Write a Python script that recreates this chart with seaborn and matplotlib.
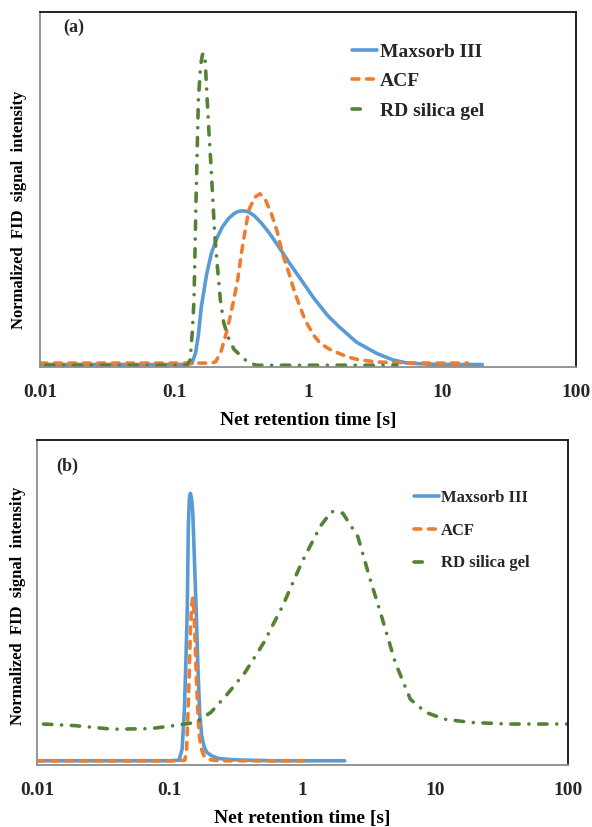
import matplotlib
matplotlib.use("Agg")
import matplotlib.pyplot as plt
import seaborn as sns
import pandas as pd
from matplotlib.ticker import FixedLocator, FixedFormatter, NullLocator

# ---------------- data ----------------
series_names = ["Maxsorb III", "ACF", "RD silica gel"]
series_colors = ["#5B9BD5", "#ED7D31", "#548235"]
tick_values = [0.01, 0.1, 1, 10, 100]
tick_labels = ["0.01", "0.1", "1", "10", "100"]
x_label = "Net retention time [s]"
y_label = "Normalized  FID  signal  intensity"
panel_labels = ["(a)", "(b)"]

# panel (a)
a_maxsorb_t = [0.01, 0.05, 0.12, 0.136, 0.145, 0.152, 0.16, 0.175, 0.19, 0.21, 0.23, 0.255,
               0.28, 0.30, 0.327, 0.36, 0.40, 0.45, 0.52, 0.607, 0.72, 0.895, 1.1, 1.4,
               1.71, 2.3, 3.27, 4.3, 5.5, 8, 12, 20]
a_maxsorb_y = [0.007, 0.007, 0.007, 0.01, 0.04, 0.09, 0.17, 0.26, 0.32, 0.365, 0.395, 0.418,
               0.432, 0.438, 0.44, 0.437, 0.425, 0.405, 0.375, 0.338, 0.295, 0.244, 0.195, 0.145,
               0.113, 0.07, 0.038, 0.02, 0.011, 0.008, 0.007, 0.007]
a_acf_t = [0.01, 0.1, 0.19, 0.205, 0.225, 0.245, 0.262, 0.279, 0.30, 0.318, 0.34, 0.361, 0.40,
           0.438, 0.48, 0.533, 0.59, 0.646, 0.72, 0.787, 0.87, 0.955, 1.1, 1.24, 1.45, 1.71,
           2.0, 2.35, 3.27, 5, 8, 15.5]
a_acf_y = [0.011, 0.011, 0.011, 0.015, 0.045, 0.094, 0.14, 0.188, 0.25, 0.319, 0.385, 0.441,
           0.478, 0.488, 0.472, 0.432, 0.38, 0.319, 0.265, 0.216, 0.17, 0.131, 0.09, 0.066,
           0.05, 0.038, 0.028, 0.021, 0.014, 0.012, 0.011, 0.011]
a_silica_t = [0.011, 0.05, 0.125, 0.132, 0.137, 0.141, 0.146, 0.152, 0.158, 0.163, 0.167, 0.171,
              0.177, 0.183, 0.189, 0.195, 0.201, 0.21, 0.222, 0.235, 0.253, 0.28, 0.318, 0.36,
              0.411, 1.0, 4.6]
a_silica_y = [0.005, 0.005, 0.005, 0.02, 0.1, 0.188, 0.469, 0.751, 0.85, 0.88, 0.884, 0.86,
              0.751, 0.65, 0.563, 0.47, 0.376, 0.29, 0.188, 0.125, 0.085, 0.05, 0.03, 0.012,
              0.005, 0.005, 0.005]

# panel (b)
b_maxsorb_t = [0.01, 0.1, 0.1175, 0.124, 0.129, 0.1325, 0.1355, 0.138, 0.1405, 0.143, 0.146,
               0.149, 0.152, 0.155, 0.159, 0.163, 0.168, 0.174, 0.182, 0.19, 0.21, 0.233, 0.28,
               0.368, 0.6, 1.0, 2.08]
b_maxsorb_y = [0.013, 0.013, 0.015, 0.05, 0.172, 0.33, 0.479, 0.734, 0.82, 0.836, 0.82,
               0.78, 0.68, 0.58, 0.45, 0.3, 0.16, 0.09, 0.055, 0.039, 0.027, 0.02, 0.017,
               0.015, 0.013, 0.013, 0.013]
b_acf_t = [0.01, 0.12, 0.13, 0.134, 0.137, 0.14, 0.143, 0.146, 0.149, 0.152, 0.155, 0.158,
           0.162, 0.167, 0.173, 0.18, 0.19, 0.21, 0.25, 0.4, 1.05]
b_acf_y = [0.013, 0.013, 0.015, 0.05, 0.15, 0.27, 0.41, 0.49, 0.514, 0.48, 0.39, 0.29,
           0.18, 0.09, 0.05, 0.03, 0.02, 0.015, 0.013, 0.013, 0.013]
b_silica_t = [0.0112, 0.0195, 0.0374, 0.0719, 0.1065, 0.157, 0.204, 0.265, 0.368, 0.51, 0.708,
              0.984, 1.36, 1.65, 2.01, 2.61, 3.18, 3.87, 5.0, 6.5, 8.5, 11.7, 18.5, 35.5, 100]
b_silica_y = [0.126, 0.121, 0.11, 0.112, 0.121, 0.131, 0.162, 0.213, 0.284, 0.376, 0.489,
              0.622, 0.734, 0.78, 0.775, 0.703, 0.581, 0.468, 0.315, 0.202, 0.162, 0.141,
              0.131, 0.126, 0.126]

# ---------------- style ----------------
sns.set_theme(style="white")
plt.rcParams["font.family"] = ["Liberation Serif", "DejaVu Serif"]
plt.rcParams["font.weight"] = "bold"

LW = 2.6
dash_patterns = [None, (1.9, 2.1), (2.3, 2.7, 0.01, 2.7)]

fig = plt.figure(figsize=(5.92, 8.27), dpi=100)
ax_a = fig.add_axes([40 / 592, 1 - 367 / 827, 536 / 592, 355 / 827])
ax_b = fig.add_axes([37 / 592, 1 - 765 / 827, 531 / 592, 325 / 827])

panels = [
    (ax_a, [(a_maxsorb_t, a_maxsorb_y), (a_acf_t, a_acf_y), (a_silica_t, a_silica_y)]),
    (ax_b, [(b_maxsorb_t, b_maxsorb_y), (b_acf_t, b_acf_y), (b_silica_t, b_silica_y)]),
]

for ax, data in panels:
    for (t, y), name, col, dp in zip(data, series_names, series_colors, dash_patterns):
        df = pd.DataFrame({"t": t, "y": y})
        sns.lineplot(data=df, x="t", y="y", ax=ax, color=col, lw=LW, label=name,
                     estimator=None, sort=False)
        ln = ax.lines[-1]
        if dp is not None:
            ln.set_dashes(dp)
            ln.set_dash_capstyle("round")
        else:
            ln.set_solid_capstyle("round")
        ln.set_solid_joinstyle("round")
    ax.set_xscale("log")
    ax.set_xlim(0.01, 100)
    ax.set_ylim(0, 1)
    ax.xaxis.set_major_locator(FixedLocator(tick_values))
    ax.xaxis.set_major_formatter(FixedFormatter(tick_labels))
    ax.xaxis.set_minor_locator(NullLocator())
    ax.set_yticks([])
    ax.tick_params(axis="x", direction="in", length=4, width=0.8, color="#BBBBBB",
                   labelsize=14, pad=12.5)
    for lab in ax.get_xticklabels():
        lab.set_fontweight("bold")
    ax.set_xlabel(x_label, fontsize=14, fontweight="bold", labelpad=8, color="black")
    ax.set_ylabel(y_label, fontsize=12, fontweight="bold", color="black")
    ax.grid(False)
    ax.spines["top"].set_color("#111111")
    ax.spines["right"].set_color("#111111")
    ax.spines["left"].set_color("#8C8C8C")
    ax.spines["bottom"].set_color("#8C8C8C")
    for s in ax.spines.values():
        s.set_linewidth(1.3)
        s.set_visible(True)

ax_a.yaxis.set_label_coords(-0.025, 0.442)
ax_b.yaxis.set_label_coords(-0.02, 0.49)

ax_a.text(0.063, 0.958, panel_labels[0], transform=ax_a.transAxes, fontsize=13,
          fontweight="bold", ha="center", va="center")
ax_b.text(0.057, 0.92, panel_labels[1], transform=ax_b.transAxes, fontsize=13,
          fontweight="bold", ha="center", va="center")

leg_a = ax_a.legend(loc="upper left", bbox_to_anchor=((352 - 40) / 536, (367 - 43) / 355),
                    frameon=False, borderpad=0, borderaxespad=0, handlelength=1.3,
                    handletextpad=0.12, labelspacing=0.62, prop={"size": 14, "weight": "bold"})
leg_b = ax_b.legend(loc="upper left", bbox_to_anchor=((414 - 37) / 531, (765 - 490) / 325),
                    frameon=False, borderpad=0, borderaxespad=0, handlelength=1.5,
                    handletextpad=0.12, labelspacing=1.0, prop={"size": 12, "weight": "bold"})
for leg in (leg_a, leg_b):
    leg.get_lines()[2].set_dashes((2.3, 12))

fig.savefig("out.png", dpi=100)
